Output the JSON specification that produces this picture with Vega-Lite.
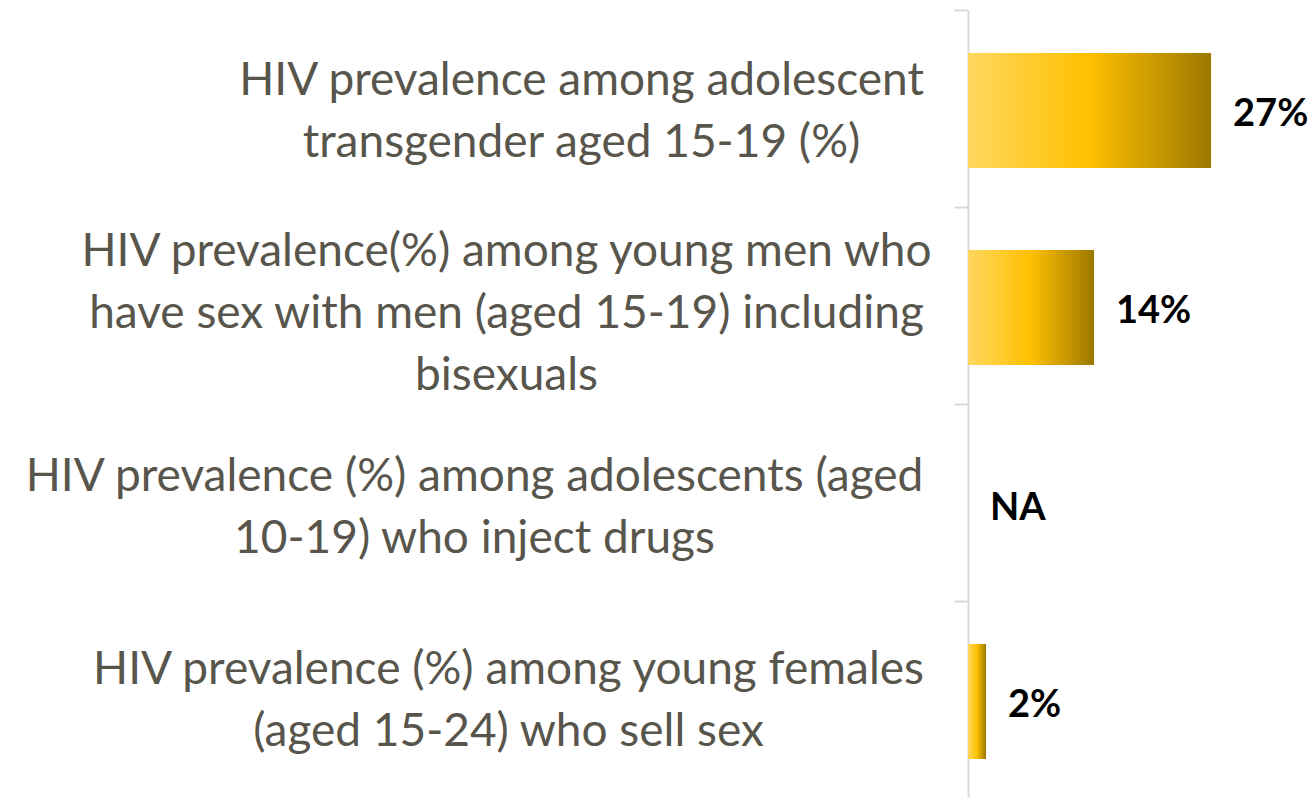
{
  "$schema": "https://vega.github.io/schema/vega-lite/v6.json",
  "autosize": {"type": "none"},
  "padding": {"left": 968, "top": 10, "right": 0, "bottom": 0},
  "width": 343,
  "height": 788,
  "background": "white",
  "config": {"view": {"stroke": null}},
  "data": {
    "values": [
      {"indicator": "HIV prevalence among adolescent|transgender aged 15-19 (%)", "value": 27, "label": "27%"},
      {"indicator": "HIV prevalence(%) among young men who|have sex with men (aged 15-19) including|bisexuals", "value": 14, "label": "14%"},
      {"indicator": "HIV prevalence (%) among adolescents (aged|10-19) who inject drugs", "value": 0, "label": "NA"},
      {"indicator": "HIV prevalence (%) among young females|(aged 15-24) who sell sex", "value": 2, "label": "2%"}
    ]
  },
  "encoding": {
    "y": {
      "field": "indicator",
      "type": "nominal",
      "sort": null,
      "scale": {"paddingInner": 0, "paddingOuter": 0},
      "axis": {
        "title": null,
        "labelExpr": "split(datum.value, '|')",
        "labelFont": "Lato",
        "labelFontSize": 46,
        "labelColor": "#58564c",
        "labelLineHeight": 62,
        "labelAlign": "center",
        "labelBaseline": "middle",
        "labelPadding": {
          "condition": [
            {"test": "indexof(datum.value, 'transgender') >= 0", "value": 373},
            {"test": "indexof(datum.value, 'young men') >= 0", "value": 448},
            {"test": "indexof(datum.value, 'inject') >= 0", "value": 480}
          ],
          "value": 446
        },
        "labelOffset": {
          "condition": [
            {"test": "indexof(datum.value, 'transgender') >= 0", "value": -28},
            {"test": "indexof(datum.value, 'young men') >= 0", "value": -54},
            {"test": "indexof(datum.value, 'inject') >= 0", "value": -26}
          ],
          "value": -30
        },
        "labelLimit": 1000,
        "domainColor": "#d9d9d9",
        "domainWidth": 2,
        "tickColor": "#d9d9d9",
        "tickWidth": 2,
        "tickSize": 14,
        "bandPosition": 0
      }
    },
    "x": {
      "field": "value",
      "type": "quantitative",
      "scale": {"domain": [0, 38.1], "nice": false, "zero": true},
      "axis": null
    }
  },
  "layer": [
    {
      "mark": {
        "type": "bar",
        "height": {"band": 0.585},
        "yOffset": 2,
        "color": {
          "gradient": "linear",
          "x1": 0, "x2": 1, "y1": 0, "y2": 0,
          "stops": [
            {"offset": 0, "color": "#ffd760"},
            {"offset": 0.5, "color": "#ffc000"},
            {"offset": 1, "color": "#9c7800"}
          ]
        }
      }
    },
    {
      "mark": {
        "type": "text",
        "align": "left",
        "baseline": "middle",
        "dx": 22,
        "dy": 6,
        "font": "Lato",
        "fontWeight": "bold",
        "fontSize": 38,
        "color": "#000000"
      },
      "encoding": {"text": {"field": "label"}}
    }
  ]
}
